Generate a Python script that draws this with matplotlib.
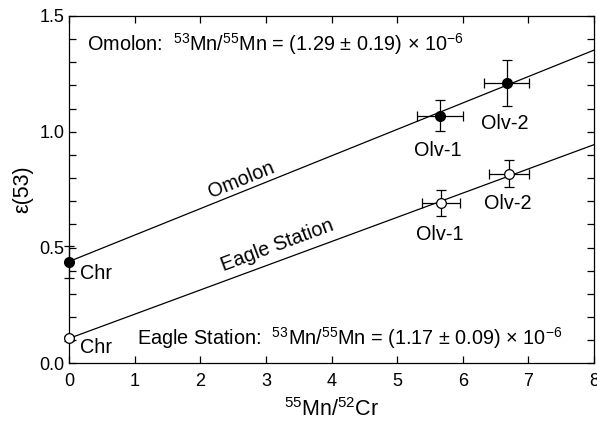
import numpy as np
import matplotlib.pyplot as plt
from matplotlib.ticker import MultipleLocator

plt.rcParams['font.family'] = ['Liberation Sans', 'DejaVu Sans']
plt.rcParams['mathtext.fontset'] = 'custom'
plt.rcParams['mathtext.rm'] = 'Liberation Sans'

# Omolon (gefüllte Punkte)
om_x = [0.0, 5.65, 6.67]
om_y = [0.437, 1.069, 1.21]
om_xerr = [0.0, 0.35, 0.34]
om_yerr = [0.068, 0.066, 0.10]
om_lab = ['Chr', 'Olv-1', 'Olv-2']

# Eagle Station (offene Punkte)
es_x = [0.0, 5.67, 6.71]
es_y = [0.108, 0.692, 0.819]
es_xerr = [0.0, 0.29, 0.305]
es_yerr = [0.01, 0.058, 0.058]
es_lab = ['Chr', 'Olv-1', 'Olv-2']

# Isochronen: Achsenabschnitt, Steigung
om_line = [0.44, 0.114]
es_line = [0.108, 0.1045]

fig = plt.figure(figsize=(5.97, 4.28), dpi=100)
ax = fig.add_axes([0.116, 0.151, 0.879, 0.812])

xs = np.array([0, 8])
ax.plot(xs, om_line[0] + om_line[1]*xs, color='black', lw=0.9)
ax.plot(xs, es_line[0] + es_line[1]*xs, color='black', lw=0.9)

ax.errorbar(om_x, om_y, xerr=om_xerr, yerr=om_yerr, fmt='o', color='black',
            ms=7, elinewidth=0.9, capsize=3.5, capthick=0.9, clip_on=False, zorder=3)
ax.errorbar(es_x, es_y, xerr=es_xerr, yerr=es_yerr, fmt='o', color='black',
            mfc='white', ms=7, mew=0.9, elinewidth=0.9, capsize=3.5, capthick=0.9,
            clip_on=False, zorder=3)

# Punktbeschriftungen
fs = 14.3
ax.text(0.16, 0.39, om_lab[0], fontsize=fs, ha='left', va='center')
ax.text(5.62, 0.92, om_lab[1], fontsize=fs, ha='center', va='center')
ax.text(6.64, 1.035, om_lab[2], fontsize=fs, ha='center', va='center')
ax.text(0.16, 0.067, es_lab[0], fontsize=fs, ha='left', va='center')
ax.text(5.65, 0.557, es_lab[1], fontsize=fs, ha='center', va='center')
ax.text(6.69, 0.69, es_lab[2], fontsize=fs, ha='center', va='center')

ang = np.degrees(np.arctan(0.403))
ax.text(2.63, 0.79, 'Omolon', fontsize=fs, ha='center', va='center', rotation=ang)
ax.text(3.17, 0.51, 'Eagle Station', fontsize=fs, ha='center', va='center', rotation=ang - 1.5)

ax.text(0.27, 1.38, r'Omolon:  $^{53}$Mn/$^{55}$Mn = (1.29 ± 0.19) × 10$^{−6}$',
        fontsize=fs, ha='left', va='center')
ax.text(1.03, 0.11, r'Eagle Station:  $^{53}$Mn/$^{55}$Mn = (1.17 ± 0.09) × 10$^{−6}$',
        fontsize=fs, ha='left', va='center')

ax.set_xlim(0, 8)
ax.set_ylim(0, 1.5)
ax.xaxis.set_major_locator(MultipleLocator(1))
ax.yaxis.set_major_locator(MultipleLocator(0.5))
ax.yaxis.set_minor_locator(MultipleLocator(0.1))
ax.yaxis.set_major_formatter(plt.FormatStrFormatter('%.1f'))
ax.tick_params(direction='in', which='both', top=True, right=True, labelsize=13,
               length=5, width=0.9)
ax.tick_params(axis='x', pad=7)
ax.tick_params(which='minor', length=5)
for s in ax.spines.values():
    s.set_linewidth(0.9)

ax.set_xlabel(r'$^{55}$Mn/$^{52}$Cr', fontsize=15.5, labelpad=6)
ax.set_ylabel('ε(53)', fontsize=15.5)

fig.savefig('out.png', dpi=100)
